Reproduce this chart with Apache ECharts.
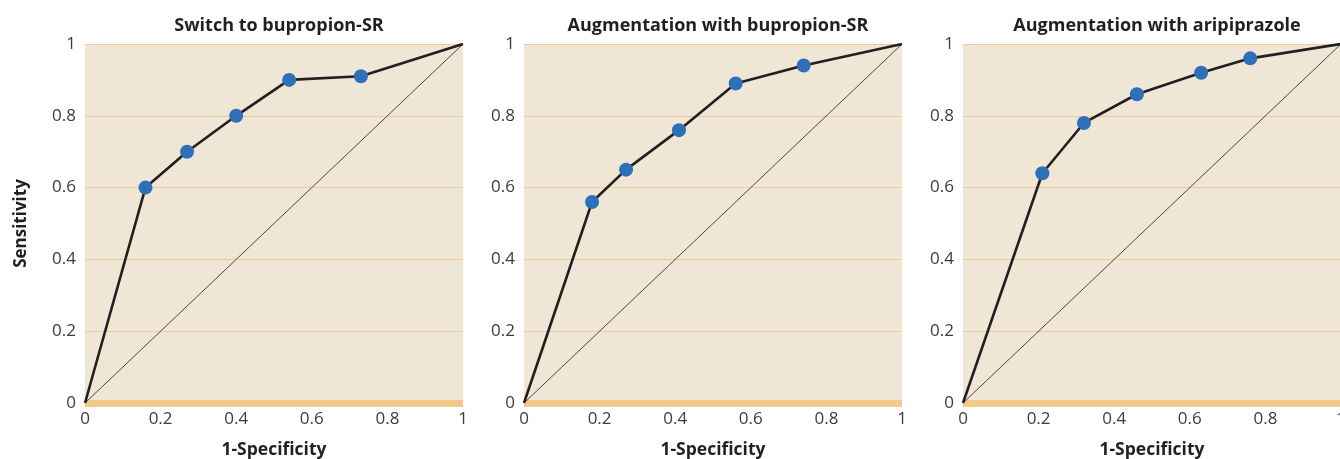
<!DOCTYPE html>
<html><head><meta charset="utf-8">
<script src="https://cdn.jsdelivr.net/npm/echarts@6/dist/echarts.min.js"></script>
<style>html,body{margin:0;padding:0;background:#fff}#c{width:1340px;height:459px}</style>
</head><body><div id="c"></div>
<script>
const panelTitles = ['Switch to bupropion-SR', 'Augmentation with bupropion-SR', 'Augmentation with aripiprazole'];
const xTicks = [0, 0.2, 0.4, 0.6, 0.8, 1];
const yTicks = [0, 0.2, 0.4, 0.6, 0.8, 1];
// 1-Specificity (x) and Sensitivity (y) for each panel
const switchX = [0.16, 0.27, 0.40, 0.54, 0.73];
const switchY = [0.60, 0.70, 0.80, 0.90, 0.91];
const augBupX = [0.18, 0.27, 0.41, 0.56, 0.74];
const augBupY = [0.56, 0.65, 0.76, 0.89, 0.94];
const augAriX = [0.21, 0.32, 0.46, 0.63, 0.76];
const augAriY = [0.64, 0.78, 0.86, 0.92, 0.96];
const panelsX = [switchX, augBupX, augAriX];
const panelsY = [switchY, augBupY, augAriY];

const font = 'Open Sans';
const lefts = [85, 524, 963];
const widthP = 378;
const grids = [], xAxes = [], yAxes = [], series = [], titles = [];
for (let i = 0; i < 3; i++) {
  grids.push({left: lefts[i], width: widthP, top: 44, height: 359, show: true, backgroundColor: '#f0e6d6', borderWidth: 0,
    containLabel: false, outerBoundsMode: 'none'});
  xAxes.push({
    type: 'value', gridIndex: i, min: 0, max: 1, interval: 0.2,
    name: '1-Specificity', nameLocation: 'middle', nameGap: 38,
    nameTextStyle: {fontFamily: font, fontWeight: 'bold', fontSize: 17.5, color: '#231f20'},
    axisLine: {show: true, onZero: false, lineStyle: {color: '#f2c98b', width: 7, cap: 'butt'}},
    axisTick: {show: false}, splitLine: {show: false},
    axisLabel: {margin: 8, fontFamily: font, fontSize: 17, color: '#3d3d3d',
      formatter: v => { const t = xTicks.find(x => Math.abs(x - v) < 1e-6); return t === undefined ? '' : String(t); }}
  });
  yAxes.push({
    type: 'value', gridIndex: i, min: 0, max: 1, interval: 0.2,
    name: i === 0 ? 'Sensitivity' : '', nameLocation: 'middle', nameGap: 55,
    nameTextStyle: {fontFamily: font, fontWeight: 'bold', fontSize: 17, color: '#231f20'},
    axisLine: {show: false}, axisTick: {show: false},
    splitLine: {show: true, lineStyle: {color: '#efcc91', width: 1}},
    axisLabel: {margin: 9, fontFamily: font, fontSize: 17, color: '#3d3d3d',
      formatter: v => { const t = yTicks.find(x => Math.abs(x - v) < 1e-6); return t === undefined ? '' : String(t); }}
  });
  titles.push({text: panelTitles[i], left: lefts[i] + widthP / 2, top: 12, textAlign: 'center',
    textStyle: {fontFamily: font, fontWeight: 'bold', fontSize: 18, color: '#231f20'}});
  const pts = panelsX[i].map((x, k) => [x, panelsY[i][k]]);
  series.push({type: 'line', xAxisIndex: i, yAxisIndex: i, data: [[0, 0], [1, 1]], showSymbol: false, silent: true,
    lineStyle: {color: '#231f20', width: 0.8}, z: 2});
  series.push({type: 'line', xAxisIndex: i, yAxisIndex: i, data: [[0, 0]].concat(pts, [[1, 1]]), showSymbol: false, silent: true,
    lineStyle: {color: '#231f20', width: 2.6}, z: 3});
  series.push({type: 'scatter', xAxisIndex: i, yAxisIndex: i, data: pts, symbolSize: 14,
    itemStyle: {color: '#2e6fba', opacity: 1}, z: 4});
}
const chart = echarts.init(document.getElementById('c'), null, {renderer: 'canvas'});
chart.setOption({animation: false, title: titles, grid: grids, xAxis: xAxes, yAxis: yAxes, series: series});
</script></body></html>
